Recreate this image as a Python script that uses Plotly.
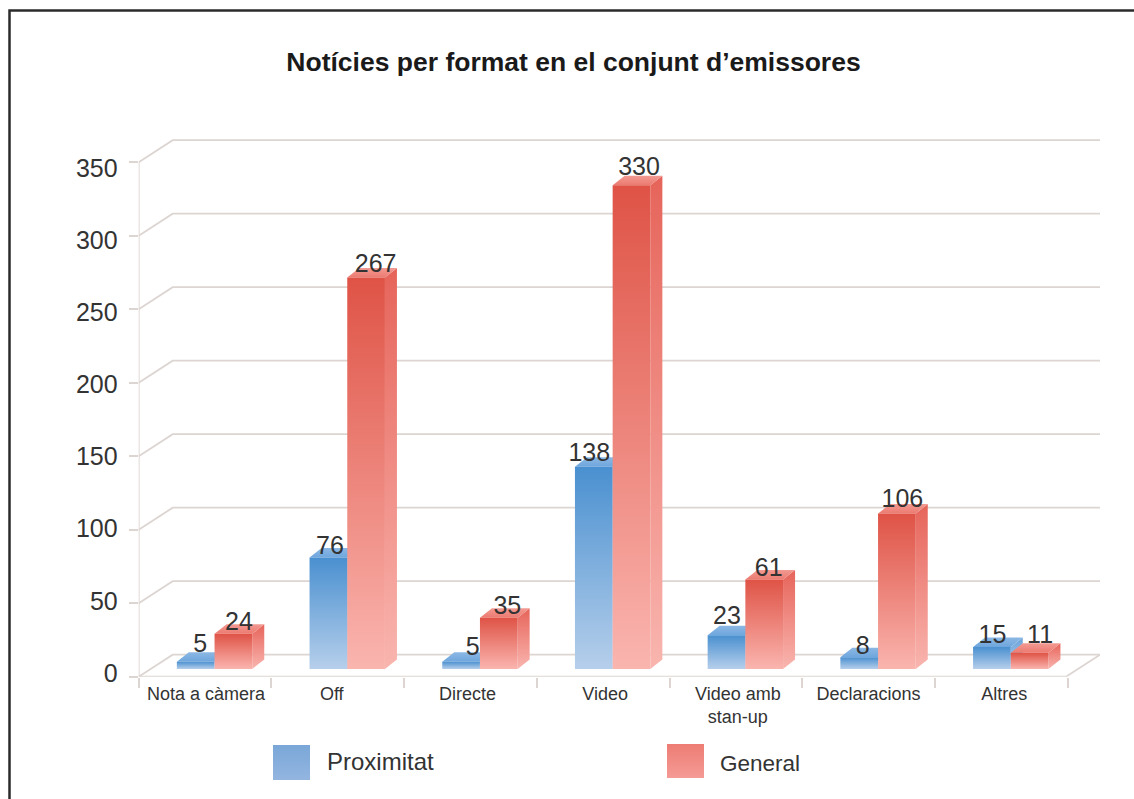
import plotly.graph_objects as go

W, H = 1134, 799

categories = ["Nota a càmera", "Off", "Directe", "Video", "Video amb<br>stan-up", "Declaracions", "Altres"]
proximitat = [5, 76, 5, 138, 23, 8, 15]
general = [24, 267, 35, 330, 61, 106, 11]
y_ticks = [0, 50, 100, 150, 200, 250, 300, 350]
title = "Notícies per format en el conjunt d’emissores"
series_names = ["Proximitat", "General"]

FONT = "Liberation Sans"
TXT = "#333333"
GRID = "#dcd5d2"

# pixel geometry of the pseudo 3-D projection
PX_X = 132.7
LEFT, RIGHT, FLOOR, TOP = 138.7, 1100.0, 676.7, 130.0
WALL_SCALE, BAR_SCALE, LABEL_SCALE = 1.47, 1.466, 1.443
BAR_BASE, LABEL_BASE = 669.0, 673.0
xmin, xmax = -0.5, -0.5 + (RIGHT - LEFT) / PX_X
wall_dx = 34 / PX_X
wall_dy = 22 / WALL_SCALE
bar_w = 37.7 / PX_X
bar_shift = 9.5 / PX_X
depth_x = 12 / PX_X
depth_y = 9.5 / BAR_SCALE
label_shift_px = [1, -6, -3, 2, 2, 0, 3]
# hand placement of the value labels, in pixels, as in the reference
nudge_x = [[4.5, 1.5, 11.5, -4.5, 0.5, 3.5, 0.5], [5.5, 9.5, 8.5, 7.5, 4.5, 5.5, 10.5]]
nudge_y = [[-3, 3, 0, 1, -5, 3, 2], [2, 1, 3, -4, 3, 0, -4]]

fig = go.Figure()


def grad(lo, hi):
    return dict(type="vertical", colorscale=[[0, lo], [1, hi]])


def face(xs, ys, lo, hi):
    fig.add_trace(go.Scatter(
        x=xs, y=ys, mode="lines", fill="toself", line=dict(width=0),
        fillgradient=grad(lo, hi), xaxis="x", yaxis="y2",
        hoverinfo="skip", showlegend=False))


# walls and floor
back = xmin + wall_dx
for v in y_ticks:
    fig.add_trace(go.Scatter(
        x=[xmin, back, xmax], y=[v, v + wall_dy, v + wall_dy], mode="lines",
        line=dict(color=GRID, width=1.8), xaxis="x", yaxis="y",
        hoverinfo="skip", showlegend=False))
fig.add_trace(go.Scatter(
    x=[xmin, xmin], y=[0, y_ticks[-1]], mode="lines",
    line=dict(color=GRID, width=1.8), xaxis="x", yaxis="y",
    hoverinfo="skip", showlegend=False))
fig.add_trace(go.Scatter(
    x=[xmin, xmax - wall_dx, xmax], y=[0, 0, wall_dy], mode="lines",
    line=dict(color=GRID, width=1.8), xaxis="x", yaxis="y", cliponaxis=False,
    hoverinfo="skip", showlegend=False))

# bars
STYLE = {
    0: dict(front=("#b6cfeb", "#4a90d0"), side=("#b4cdea", "#6aa3da"), top=("#6ea6dd", "#8cb8e4")),
    1: dict(front=("#fab5af", "#df5346"), side=("#f9b5af", "#e6645a"), top=("#ec7a70", "#f29a92")),
}
for i in range(len(categories)):
    for s, vals in enumerate((proximitat, general)):
        v = vals[i]
        st = STYLE[s]
        x0 = i + bar_shift + (s - 1) * bar_w
        x1 = x0 + bar_w
        face([x1, x1 + depth_x, x1 + depth_x, x1, x1], [0, depth_y, v + depth_y, v, 0], *st["side"])
        face([x0, x1, x1 + depth_x, x0 + depth_x, x0], [v, v, v + depth_y, v + depth_y, v], *st["top"])
        face([x0, x1, x1, x0, x0], [0, 0, v, v, 0], *st["front"])

# value labels
for s, vals in enumerate((proximitat, general)):
    fig.add_trace(go.Scatter(
        x=[i + bar_shift + (s - 0.5) * bar_w + nudge_x[s][i] / PX_X for i in range(len(categories))],
        y=[vals[i] - nudge_y[s][i] / BAR_SCALE for i in range(len(categories))],
        mode="text", text=[str(v) for v in vals], textposition="top center",
        textfont=dict(family=FONT, size=25, color=TXT), cliponaxis=False,
        xaxis="x", yaxis="y2", hoverinfo="skip", showlegend=False))

# hidden carrier for the label axis
fig.add_trace(go.Scatter(
    x=[xmin] * len(y_ticks), y=y_ticks, mode="markers", marker=dict(opacity=0),
    xaxis="x", yaxis="y3", hoverinfo="skip", showlegend=False))

# legend swatches (page-pixel axes)
for (x0, x1, y0, y1), name, lo, hi in (
    ((273, 310, 745, 780), series_names[0], "#93b5e0", "#7aa7d8"),
    ((667, 704, 744, 778), series_names[1], "#f59a95", "#ed7d74"),
):
    fig.add_trace(go.Scatter(
        x=[x0, x1, x1, x0, x0], y=[y0, y0, y1, y1, y0], mode="lines", fill="toself",
        line=dict(width=0), fillgradient=grad(lo, hi), name=name,
        xaxis="x2", yaxis="y4", hoverinfo="skip", showlegend=False))

sy = lambda p: 1 - p / H
fig.update_layout(
    template="none",
    width=W, height=H, autosize=False,
    margin=dict(l=0, r=0, t=0, b=0, pad=0),
    paper_bgcolor="white", plot_bgcolor="rgba(0,0,0,0)",
    title=dict(text=f"<b>{title}</b>", x=573.5 / W, xanchor="center", xref="paper",
               y=sy(62), yanchor="middle", yref="paper",
               font=dict(family=FONT, size=26.5, color="#1a1a1a")),
    xaxis=dict(domain=[LEFT / W, RIGHT / W], range=[xmin, xmax], anchor="y", automargin=False,
               tickmode="array",
               tickvals=[i + label_shift_px[i] / PX_X for i in range(len(categories))],
               ticktext=categories,
               ticks="", ticklen=0, ticklabelstandoff=4, showgrid=False, zeroline=False,
               showline=False, tickfont=dict(family=FONT, size=18, color=TXT),
               minor=dict(tickmode="linear", tick0=-0.5, dtick=1, ticks="outside", ticklen=10,
                          tickcolor=GRID, tickwidth=1.5, showgrid=False)),
    xaxis2=dict(domain=[0, 1], range=[0, W], anchor="y4", visible=False, automargin=False),
    yaxis=dict(domain=[sy(FLOOR), sy(TOP)], range=[0, (FLOOR - TOP) / WALL_SCALE], anchor="x",
               automargin=False,
               tickmode="array", tickvals=y_ticks, showticklabels=False, ticks="outside",
               ticklen=9, tickcolor=GRID, tickwidth=1.5, showgrid=False, zeroline=False),
    yaxis2=dict(domain=[sy(FLOOR), sy(TOP)], overlaying="y", anchor="x", visible=False,
                automargin=False,
                range=[(BAR_BASE - FLOOR) / BAR_SCALE, (BAR_BASE - TOP) / BAR_SCALE]),
    yaxis3=dict(domain=[sy(FLOOR), sy(TOP)], overlaying="y", anchor="x", side="left",
                automargin=False,
                range=[(LABEL_BASE - FLOOR) / LABEL_SCALE, (LABEL_BASE - TOP) / LABEL_SCALE],
                tickmode="array", tickvals=y_ticks, ticks="", ticklabelstandoff=20,
                showgrid=False, zeroline=False, showline=False,
                tickfont=dict(family=FONT, size=25, color=TXT)),
    yaxis4=dict(domain=[0, 1], range=[H, 0], anchor="x2", visible=False, automargin=False),
    annotations=[
        dict(text=series_names[0], x=325 / W, y=sy(761), xref="paper", yref="paper",
             xanchor="left", yanchor="middle", showarrow=False,
             font=dict(family=FONT, size=24, color=TXT)),
        dict(text=series_names[1], x=718 / W, y=sy(763), xref="paper", yref="paper",
             xanchor="left", yanchor="middle", showarrow=False,
             font=dict(family=FONT, size=22.5, color=TXT)),
    ],
    shapes=[dict(type="path", xref="paper", yref="paper",
                 path=f"M {9.5/W} 0 L {9.5/W} {sy(10.5)} L 1 {sy(10.5)}",
                 line=dict(color="#2b2b2b", width=2.5))],
)

fig.write_html("out.html", config={"displayModeBar": False},
               post_script="document.body.style.margin='0';")
